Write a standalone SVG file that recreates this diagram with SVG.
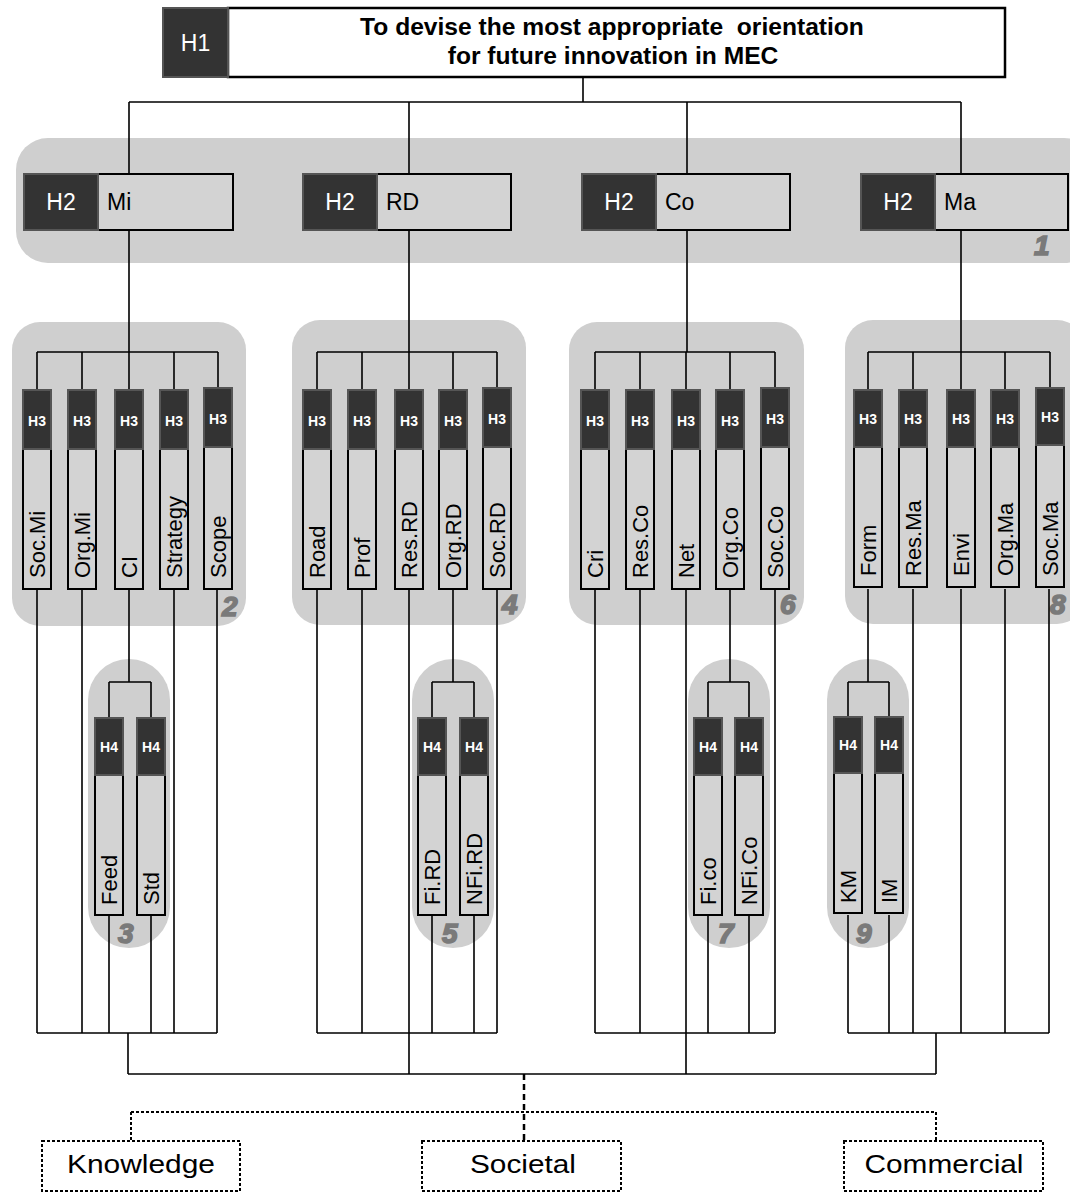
<svg xmlns="http://www.w3.org/2000/svg" width="1070" height="1192" viewBox="0 0 1070 1192">
<style>
.ln{stroke:#000;stroke-width:1.6;fill:none}
.dk{fill:#333;stroke:#555;stroke-width:2}
.lt{fill:#d3d3d3;stroke:#000;stroke-width:2}
.wt{fill:#fff;stroke:#000;stroke-width:2.5}
.grp{fill:#cfcfcf}
.h1t{font-family:"Liberation Sans",Arial,sans-serif;font-weight:bold;font-size:24.6px;fill:#000;text-anchor:middle}
.lab{font-family:"Liberation Sans",Arial,sans-serif;font-size:23px;fill:#fff;text-anchor:middle}
.h2t{font-family:"Liberation Sans",Arial,sans-serif;font-size:23px;fill:#000}
.h3{font-family:"Liberation Sans",Arial,sans-serif;font-weight:bold;font-size:14px;fill:#fff;text-anchor:middle}
.vt{font-family:"Liberation Sans",Arial,sans-serif;font-size:22px;fill:#000}
.num{font-family:"Liberation Sans",Arial,sans-serif;font-style:italic;font-weight:bold;font-size:28px;fill:#7a7a7a;stroke:#7a7a7a;stroke-width:1.6}
.dot{stroke:#000;stroke-width:2;fill:none;stroke-dasharray:3 2}
.dash{stroke:#000;stroke-width:2.5;fill:none;stroke-dasharray:6 4}
.bt{font-family:"Liberation Sans",Arial,sans-serif;font-size:25px;fill:#000;text-anchor:middle}
</style>

<g id="groups">
<rect class="grp" x="16" y="138" width="1080" height="125" rx="32"/>
<rect class="grp" x="12" y="322" width="234" height="304" rx="28"/>
<rect class="grp" x="292" y="320" width="234" height="305" rx="28"/>
<rect class="grp" x="569" y="322" width="235" height="303" rx="28"/>
<rect class="grp" x="845" y="320" width="240" height="304" rx="28"/>
<rect class="grp" x="88" y="659" width="82" height="289" rx="41"/>
<rect class="grp" x="412" y="659" width="82" height="289" rx="41"/>
<rect class="grp" x="688" y="659" width="82" height="289" rx="41"/>
<rect class="grp" x="827" y="659" width="82" height="289" rx="41"/>
<text class="num" x="1034" y="255">1</text>
<text class="num" x="222" y="616">2</text>
<text class="num" x="118" y="943">3</text>
<text class="num" x="502" y="614">4</text>
<text class="num" x="442" y="943">5</text>
<text class="num" x="780" y="614">6</text>
<text class="num" x="718" y="943">7</text>
<text class="num" x="1050" y="614">8</text>
<text class="num" x="856" y="943">9</text>
</g>

<g id="connectors">
<path class="ln" d="M583 77V102M129 102H961M129 102V174M409 102V174M687 102V174M961 102V174"/>
<path class="ln" d="M129 230V352M409 230V352M687 230V352M961 230V352"/>
<path class="ln" d="M37 352H218M37 352V390M82 352V390M129 352V390M174 352V390M218 352V390"/>
<path class="ln" d="M317 352H497M317 352V390M362 352V390M409 352V390M453 352V390M497 352V390"/>
<path class="ln" d="M595 352H775M595 352V390M640 352V390M686 352V390M730 352V390M775 352V390"/>
<path class="ln" d="M868 352H1050M868 352V390M913 352V390M961 352V390M1005 352V390M1050 352V390"/>
<path class="ln" d="M129 589V682M109 682H151M109 682V718M151 682V718"/>
<path class="ln" d="M453 589V682M432 682H474M432 682V718M474 682V718"/>
<path class="ln" d="M730 589V682M708 682H749M708 682V718M749 682V718"/>
<path class="ln" d="M868 589V682M848 682H889M848 682V718M889 682V718"/>
<path class="ln" d="M37 589V1033M82 589V1033M174 589V1033M217 589V1033M109 915V1033M151 915V1033M37 1033H217M128 1033V1074"/>
<path class="ln" d="M317 589V1033M362 589V1033M409 589V1074M497 589V1033M432 915V1033M474 915V1033M317 1033H497"/>
<path class="ln" d="M595 589V1033M640 589V1033M686 589V1074M775 589V1033M708 915V1033M749 915V1033M595 1033H775"/>
<path class="ln" d="M913 589V1033M961 589V1033M1005 589V1033M1049 589V1033M848 915V1033M889 915V1033M848 1033H1049M936 1033V1074"/>
<path class="ln" d="M128 1074H936"/>
<path class="dash" d="M524 1074V1141"/>
<path class="dot" d="M131 1112H936M131 1112V1141M936 1112V1141"/>
</g>

<g id="n-h1">
<rect class="wt" x="228" y="8" width="777" height="69"/>
<rect class="dk" x="163" y="8" width="65" height="69"/>
<text class="lab" x="195.5" y="51">H1</text>
<text class="h1t" x="612" y="35">To devise the most appropriate&#160; orientation</text>
<text class="h1t" x="613" y="64">for future innovation in MEC</text>
</g>

<g id="n-mi"><rect class="lt" x="98" y="174" width="135" height="56"/><rect class="dk" x="24" y="174" width="74" height="56"/><text class="lab" x="61" y="210">H2</text><text class="h2t" x="107" y="210">Mi</text></g>
<g id="n-rd"><rect class="lt" x="377" y="174" width="134" height="56"/><rect class="dk" x="303" y="174" width="74" height="56"/><text class="lab" x="340" y="210">H2</text><text class="h2t" x="386" y="210">RD</text></g>
<g id="n-co"><rect class="lt" x="656" y="174" width="134" height="56"/><rect class="dk" x="582" y="174" width="74" height="56"/><text class="lab" x="619" y="210">H2</text><text class="h2t" x="665" y="210">Co</text></g>
<g id="n-ma"><rect class="lt" x="935" y="174" width="133" height="56"/><rect class="dk" x="861" y="174" width="74" height="56"/><text class="lab" x="898" y="210">H2</text><text class="h2t" x="944" y="210">Ma</text></g>

<g id="n-socmi"><rect class="lt" x="23" y="449" width="28" height="140"/><rect class="dk" x="23" y="390" width="28" height="59"/><text class="h3" x="37" y="426">H3</text><text class="vt" transform="translate(45,578) rotate(-90)">Soc.Mi</text></g>
<g id="n-orgmi"><rect class="lt" x="68" y="449" width="28" height="140"/><rect class="dk" x="68" y="390" width="28" height="59"/><text class="h3" x="82" y="426">H3</text><text class="vt" transform="translate(90,578) rotate(-90)">Org.Mi</text></g>
<g id="n-ci"><rect class="lt" x="115" y="449" width="28" height="140"/><rect class="dk" x="115" y="390" width="28" height="59"/><text class="h3" x="129" y="426">H3</text><text class="vt" transform="translate(137,578) rotate(-90)">CI</text></g>
<g id="n-strategy"><rect class="lt" x="160" y="449" width="28" height="140"/><rect class="dk" x="160" y="390" width="28" height="59"/><text class="h3" x="174" y="426">H3</text><text class="vt" transform="translate(182,578) rotate(-90)">Strategy</text></g>
<g id="n-scope"><rect class="lt" x="204" y="447" width="28" height="142"/><rect class="dk" x="204" y="388" width="28" height="59"/><text class="h3" x="218" y="424">H3</text><text class="vt" transform="translate(226,578) rotate(-90)">Scope</text></g>

<g id="n-road"><rect class="lt" x="303" y="449" width="28" height="140"/><rect class="dk" x="303" y="390" width="28" height="59"/><text class="h3" x="317" y="426">H3</text><text class="vt" transform="translate(325,578) rotate(-90)">Road</text></g>
<g id="n-prof"><rect class="lt" x="348" y="449" width="28" height="140"/><rect class="dk" x="348" y="390" width="28" height="59"/><text class="h3" x="362" y="426">H3</text><text class="vt" transform="translate(370,578) rotate(-90)">Prof</text></g>
<g id="n-resrd"><rect class="lt" x="395" y="449" width="28" height="140"/><rect class="dk" x="395" y="390" width="28" height="59"/><text class="h3" x="409" y="426">H3</text><text class="vt" transform="translate(417,578) rotate(-90)">Res.RD</text></g>
<g id="n-orgrd"><rect class="lt" x="439" y="449" width="28" height="140"/><rect class="dk" x="439" y="390" width="28" height="59"/><text class="h3" x="453" y="426">H3</text><text class="vt" transform="translate(461,578) rotate(-90)">Org.RD</text></g>
<g id="n-socrd"><rect class="lt" x="483" y="447" width="28" height="142"/><rect class="dk" x="483" y="388" width="28" height="59"/><text class="h3" x="497" y="424">H3</text><text class="vt" transform="translate(505,578) rotate(-90)">Soc.RD</text></g>

<g id="n-cri"><rect class="lt" x="581" y="449" width="28" height="140"/><rect class="dk" x="581" y="390" width="28" height="59"/><text class="h3" x="595" y="426">H3</text><text class="vt" transform="translate(603,578) rotate(-90)">Cri</text></g>
<g id="n-resco"><rect class="lt" x="626" y="449" width="28" height="140"/><rect class="dk" x="626" y="390" width="28" height="59"/><text class="h3" x="640" y="426">H3</text><text class="vt" transform="translate(648,578) rotate(-90)">Res.Co</text></g>
<g id="n-net"><rect class="lt" x="672" y="449" width="28" height="140"/><rect class="dk" x="672" y="390" width="28" height="59"/><text class="h3" x="686" y="426">H3</text><text class="vt" transform="translate(694,578) rotate(-90)">Net</text></g>
<g id="n-orgco"><rect class="lt" x="716" y="449" width="28" height="140"/><rect class="dk" x="716" y="390" width="28" height="59"/><text class="h3" x="730" y="426">H3</text><text class="vt" transform="translate(738,578) rotate(-90)">Org.Co</text></g>
<g id="n-socco"><rect class="lt" x="761" y="447" width="28" height="142"/><rect class="dk" x="761" y="388" width="28" height="59"/><text class="h3" x="775" y="424">H3</text><text class="vt" transform="translate(783,578) rotate(-90)">Soc.Co</text></g>

<g id="n-form"><rect class="lt" x="854" y="447" width="28" height="140"/><rect class="dk" x="854" y="390" width="28" height="57"/><text class="h3" x="868" y="424">H3</text><text class="vt" transform="translate(876,576) rotate(-90)">Form</text></g>
<g id="n-resma"><rect class="lt" x="899" y="447" width="28" height="140"/><rect class="dk" x="899" y="390" width="28" height="57"/><text class="h3" x="913" y="424">H3</text><text class="vt" transform="translate(921,576) rotate(-90)">Res.Ma</text></g>
<g id="n-envi"><rect class="lt" x="947" y="447" width="28" height="140"/><rect class="dk" x="947" y="390" width="28" height="57"/><text class="h3" x="961" y="424">H3</text><text class="vt" transform="translate(969,576) rotate(-90)">Envi</text></g>
<g id="n-orgma"><rect class="lt" x="991" y="447" width="28" height="140"/><rect class="dk" x="991" y="390" width="28" height="57"/><text class="h3" x="1005" y="424">H3</text><text class="vt" transform="translate(1013,576) rotate(-90)">Org.Ma</text></g>
<g id="n-socma"><rect class="lt" x="1036" y="445" width="28" height="142"/><rect class="dk" x="1036" y="388" width="28" height="57"/><text class="h3" x="1050" y="422">H3</text><text class="vt" transform="translate(1058,576) rotate(-90)">Soc.Ma</text></g>

<g id="n-feed"><rect class="lt" x="95" y="775" width="28" height="140"/><rect class="dk" x="95" y="718" width="28" height="57"/><text class="h3" x="109" y="752">H4</text><text class="vt" transform="translate(117,905) rotate(-90)">Feed</text></g>
<g id="n-std"><rect class="lt" x="137" y="775" width="28" height="140"/><rect class="dk" x="137" y="718" width="28" height="57"/><text class="h3" x="151" y="752">H4</text><text class="vt" transform="translate(159,905) rotate(-90)">Std</text></g>
<g id="n-fird"><rect class="lt" x="418" y="775" width="28" height="140"/><rect class="dk" x="418" y="718" width="28" height="57"/><text class="h3" x="432" y="752">H4</text><text class="vt" transform="translate(440,905) rotate(-90)">Fi.RD</text></g>
<g id="n-nfird"><rect class="lt" x="460" y="775" width="28" height="140"/><rect class="dk" x="460" y="718" width="28" height="57"/><text class="h3" x="474" y="752">H4</text><text class="vt" transform="translate(482,905) rotate(-90)">NFi.RD</text></g>
<g id="n-fico"><rect class="lt" x="694" y="775" width="28" height="140"/><rect class="dk" x="694" y="718" width="28" height="57"/><text class="h3" x="708" y="752">H4</text><text class="vt" transform="translate(716,905) rotate(-90)">Fi.co</text></g>
<g id="n-nfico"><rect class="lt" x="735" y="775" width="28" height="140"/><rect class="dk" x="735" y="718" width="28" height="57"/><text class="h3" x="749" y="752">H4</text><text class="vt" transform="translate(757,905) rotate(-90)">NFi.Co</text></g>
<g id="n-km"><rect class="lt" x="834" y="773" width="28" height="140"/><rect class="dk" x="834" y="717" width="28" height="56"/><text class="h3" x="848" y="750">H4</text><text class="vt" transform="translate(856,903) rotate(-90)">KM</text></g>
<g id="n-im"><rect class="lt" x="875" y="773" width="28" height="140"/><rect class="dk" x="875" y="717" width="28" height="56"/><text class="h3" x="889" y="750">H4</text><text class="vt" transform="translate(897,903) rotate(-90)">IM</text></g>

<g id="n-knowledge"><rect class="dot" x="42" y="1141" width="198" height="50"/><text class="bt" x="141" y="1173" textLength="148" lengthAdjust="spacingAndGlyphs">Knowledge</text></g>
<g id="n-societal"><rect class="dot" x="422" y="1141" width="199" height="50"/><text class="bt" x="523" y="1173" textLength="106" lengthAdjust="spacingAndGlyphs">Societal</text></g>
<g id="n-commercial"><rect class="dot" x="844" y="1141" width="199" height="50"/><text class="bt" x="944" y="1173" textLength="159" lengthAdjust="spacingAndGlyphs">Commercial</text></g>
</svg>
